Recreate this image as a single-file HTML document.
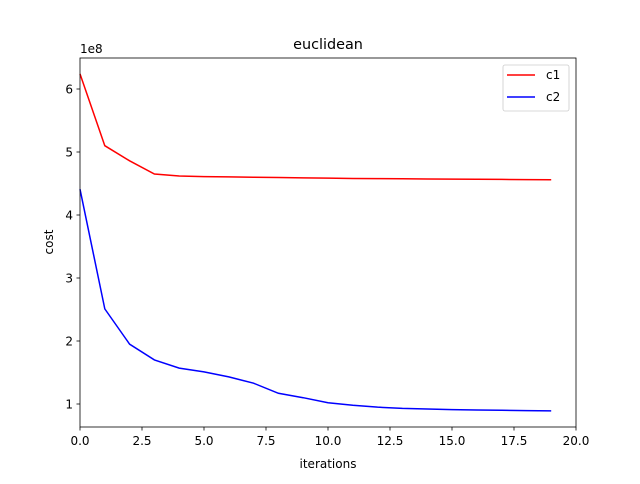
<!DOCTYPE html>
<html><head><meta charset="utf-8"><style>
body{margin:0;background:#fff;font-family:"DejaVu Sans","Liberation Sans",sans-serif;}
svg text{font-family:"DejaVu Sans","Liberation Sans",sans-serif;fill:#000;}
</style></head><body>
<svg id="chart" width="640" height="480" viewBox="0 0 640 480">
<rect width="640" height="480" fill="#fff"/>
<g id="ticks"></g>
<g id="lines"></g>
<rect x="80" y="58" width="496" height="369" fill="none" stroke="#000" stroke-width="0.8"/>
<text x="328" y="49" font-size="14.4" text-anchor="middle">euclidean</text>
<text x="328" y="468" font-size="12" text-anchor="middle">iterations</text>
<text x="53" y="242" font-size="12" text-anchor="middle" transform="rotate(-90 53 242)">cost</text>
<text x="80" y="53" font-size="12">1e8</text>
<g>
<rect x="503" y="65" width="66" height="46" rx="2" fill="#fff" stroke="#ccc" stroke-width="0.8"/>
<line x1="507" y1="75" x2="535" y2="75" stroke="red" stroke-width="1.5"/>
<text x="546" y="79" font-size="12">c1</text>
<line x1="507" y1="97" x2="535" y2="97" stroke="blue" stroke-width="1.5"/>
<text x="546" y="101" font-size="12">c2</text>
</g>
</svg>
<script>
const iterations=[0,1,2,3,4,5,6,7,8,9,10,11,12,13,14,15,16,17,18,19];
const c1=[6.24,5.10,4.86,4.65,4.62,4.61,4.605,4.60,4.595,4.59,4.585,4.58,4.578,4.575,4.572,4.57,4.568,4.565,4.562,4.56];
const c2=[4.41,2.51,1.95,1.70,1.57,1.51,1.43,1.33,1.17,1.10,1.02,0.98,0.95,0.93,0.92,0.91,0.905,0.90,0.895,0.89];
const xTicks=[0,2.5,5,7.5,10,12.5,15,17.5,20];
const xTickLabels=["0.0","2.5","5.0","7.5","10.0","12.5","15.0","17.5","20.0"];
const yTicks=[1,2,3,4,5,6];
const yTickLabels=["1","2","3","4","5","6"];
const NS="http://www.w3.org/2000/svg";
function X(v){return 80+v*24.8;}
function Y(v){return 404-(v-1)*63;}
const tg=document.getElementById('ticks');
function mk(t,a,p){const e=document.createElementNS(NS,t);for(const k in a)e.setAttribute(k,a[k]);p.appendChild(e);return e;}
xTicks.forEach((v,i)=>{
 const l=mk('line',{x1:X(v),x2:X(v),y1:427,y2:430.5,stroke:'#000','stroke-width':0.8},tg);
 
 
 const t=mk('text',{x:X(v),y:445,'font-size':12,'text-anchor':'middle'},tg);t.textContent=xTickLabels[i];
 
 
});
yTicks.forEach((v,i)=>{
 const l=mk('line',{x1:76.5,x2:80,y1:Y(v),y2:Y(v),stroke:'#000','stroke-width':0.8},tg);
 
 
 const t=mk('text',{x:73,y:Y(v)+4.5,'font-size':12,'text-anchor':'end'},tg);t.textContent=yTickLabels[i];
 
 
});
const lg=document.getElementById('lines');
[[c1,'red','line-c1'],[c2,'blue','line-c2']].forEach(([d,c,n])=>{
 const p=mk('polyline',{points:d.map((v,i)=>X(iterations[i])+','+Y(v)).join(' '),fill:'none',stroke:c,'stroke-width':1.5},lg);
 
 
});
</script>
</body></html>
